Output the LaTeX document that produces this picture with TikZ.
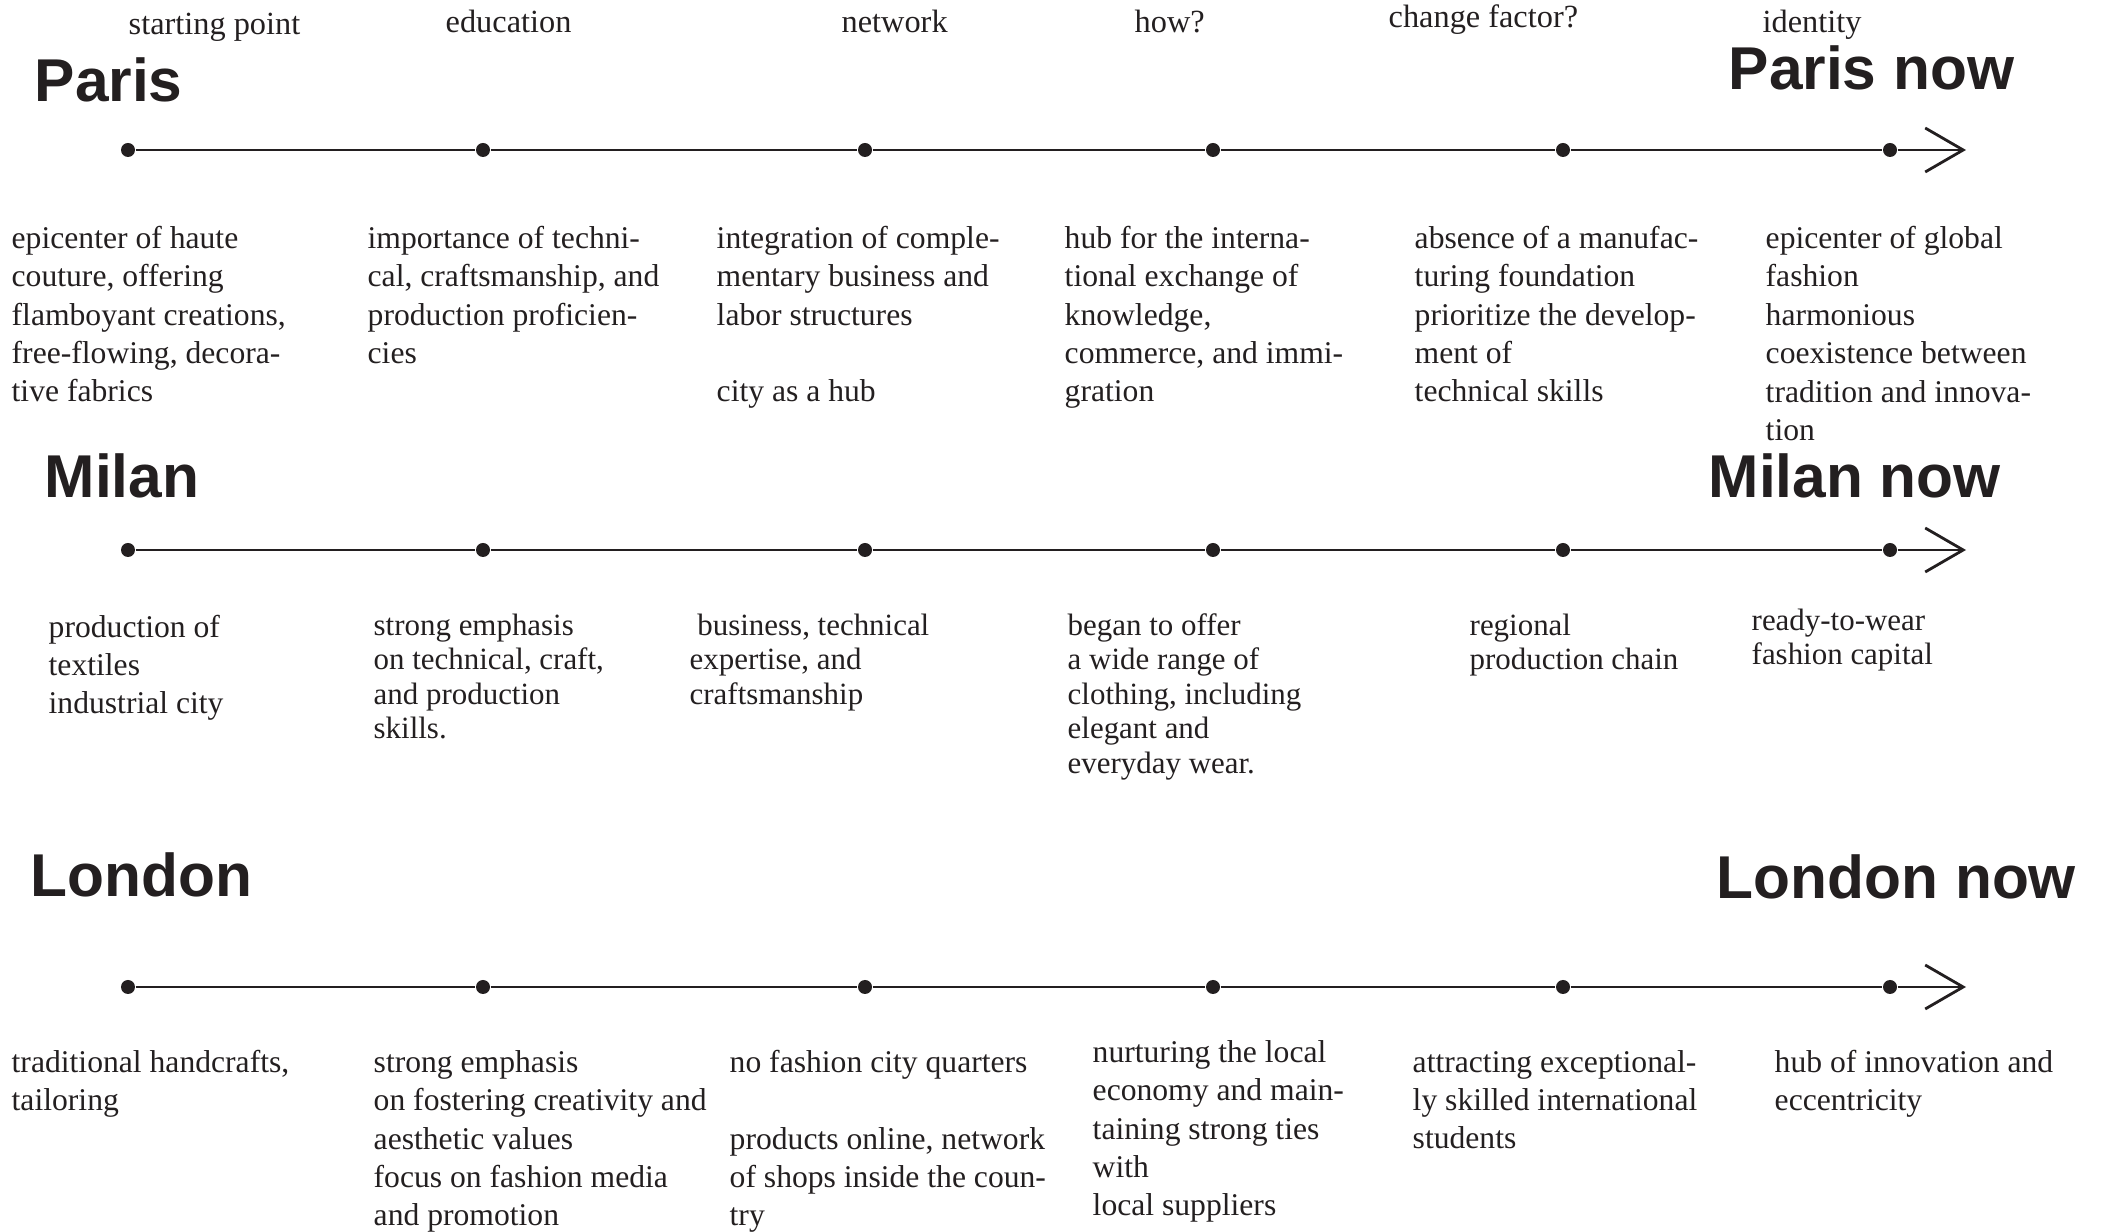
\documentclass[tikz,border=0pt]{standalone}
\usepackage{fontspec}
\setmainfont{Liberation Serif}
\newfontfamily\titlefont{Liberation Sans}
\usetikzlibrary{positioning,arrows.meta}
\definecolor{ink}{HTML}{231F20}

\begin{document}
\begin{tikzpicture}[on grid, ink,
  dot/.style={circle, fill=ink, inner sep=0pt, minimum size=0.14cm},
  tline/.style={line width=0.8pt},
  tarrow/.style={tline, -{Straight Barb[length=3.8mm, width=4.4mm, line width=0.8pt]}},
  city/.style={anchor=base west, inner sep=0pt, font=\titlefont\bfseries\fontsize{17.2}{20}\selectfont},
  head/.style={anchor=base west, inner sep=0pt, font=\fontsize{9.2}{11}\selectfont},
  note/.style={anchor=base west, align=left, inner sep=0pt, font=\fontsize{9}{10.95}\selectfont},
  mnote/.style={note, font=\fontsize{8.8}{9.84}\selectfont}]
\useasboundingbox (0,0) rectangle (21.09,12.32);

% column heads
\node[head] (h1) at (1.28,11.97) {starting point};
\node[head] (h2) at (4.45,11.99) {education};
\node[head] (h3) at (8.41,11.99) {network};
\node[head] (h4) at (11.34,11.99) {how?};
\node[head] (h5) at (13.88,12.04) {change factor?};
\node[head] (h6) at (17.62,11.99) {identity};

% Paris
\node[city] (paris) at (0.34,11.30) {Paris};
\node[city] (parisnow) at (17.28,11.42) {Paris now};
\node[dot] (p1) at (1.28,10.82) {};
\node[dot, right=3.55cm of p1] (p2) {};
\node[dot, right=3.82cm of p2] (p3) {};
\node[dot, right=3.48cm of p3] (p4) {};
\node[dot, right=3.50cm of p4] (p5) {};
\node[dot, right=3.27cm of p5] (p6) {};
\coordinate[right=0.76cm of p6] (pe);
\draw[tline] (p1) -- (p2) -- (p3) -- (p4) -- (p5) -- (p6);
\draw[tarrow] (p6) -- (pe);

% notes sit on the baseline of their last line
\node[note] (pt1) at (0.11,8.30) {epicenter of haute\\couture, offering\\flamboyant creations,\\free-flowing, decora-\\tive fabrics};
\node[note] (pt2) at (3.67,8.685) {importance of techni-\\cal, craftsmanship, and\\production proficien-\\cies};
\node[note] (pt3) at (7.16,8.30) {integration of comple-\\mentary business and\\labor structures\\[10.95pt]city as a hub};
\node[note] (pt4) at (10.64,8.30) {hub for the interna-\\tional exchange of\\knowledge,\\commerce, and immi-\\gration};
\node[note] (pt5) at (14.14,8.30) {absence of a manufac-\\turing foundation\\prioritize the develop-\\ment of\\technical skills};
\node[note] (pt6) at (17.65,7.915) {epicenter of global\\fashion\\harmonious\\coexistence between\\tradition and innova-\\tion};

% Milan
\node[city] (milan) at (0.44,7.34) {Milan};
\node[city] (milannow) at (17.08,7.34) {Milan now};
\node[dot, below=4cm of p1] (m1) {};
\node[dot, below=4cm of p2] (m2) {};
\node[dot, below=4cm of p3] (m3) {};
\node[dot, below=4cm of p4] (m4) {};
\node[dot, below=4cm of p5] (m5) {};
\node[dot, below=4cm of p6] (m6) {};
\coordinate[right=0.76cm of m6] (me);
\draw[tline] (m1) -- (m2) -- (m3) -- (m4) -- (m5) -- (m6);
\draw[tarrow] (m6) -- (me);

\node[note] (mt1) at (0.48,5.18) {production of\\textiles\\industrial city};
\node[mnote] (mt2) at (3.73,4.932) {strong emphasis\\on technical, craft,\\and production\\skills.};
\node[mnote] (mt3) at (6.89,5.278) {\ business, technical\\expertise, and\\craftsmanship};
\node[mnote] (mt4) at (10.67,4.586) {began to offer\\a wide range of\\clothing, including\\elegant and\\everyday wear.};
\node[mnote] (mt5) at (14.69,5.624) {regional\\production chain};
\node[mnote] (mt6) at (17.51,5.674) {ready-to-wear\\fashion capital};

% London
\node[city] (london) at (0.30,3.35) {London};
\node[city] (londonnow) at (17.16,3.33) {London now};
\node[dot, below=4.37cm of m1] (l1) {};
\node[dot, below=4.37cm of m2] (l2) {};
\node[dot, below=4.37cm of m3] (l3) {};
\node[dot, below=4.37cm of m4] (l4) {};
\node[dot, below=4.37cm of m5] (l5) {};
\node[dot, below=4.37cm of m6] (l6) {};
\coordinate[right=0.76cm of l6] (le);
\draw[tline] (l1) -- (l2) -- (l3) -- (l4) -- (l5) -- (l6);
\draw[tarrow] (l6) -- (le);

\node[note] (lt1) at (0.11,1.215) {traditional handcrafts,\\tailoring};
\node[note] (lt2) at (3.73,0.06) {strong emphasis\\on fostering creativity and\\aesthetic values\\focus on fashion media\\and promotion};
\node[note] (lt3) at (7.29,0.06) {no fashion city quarters\\[10.95pt]products online, network\\of shops inside the coun-\\try};
\node[note] (lt4) at (10.92,0.16) {nurturing the local\\economy and main-\\taining strong ties\\with\\local suppliers};
\node[note] (lt5) at (14.12,0.83) {attracting exceptional-\\ly skilled international\\students};
\node[note] (lt6) at (17.74,1.215) {hub of innovation and\\eccentricity};
\end{tikzpicture}
\end{document}
